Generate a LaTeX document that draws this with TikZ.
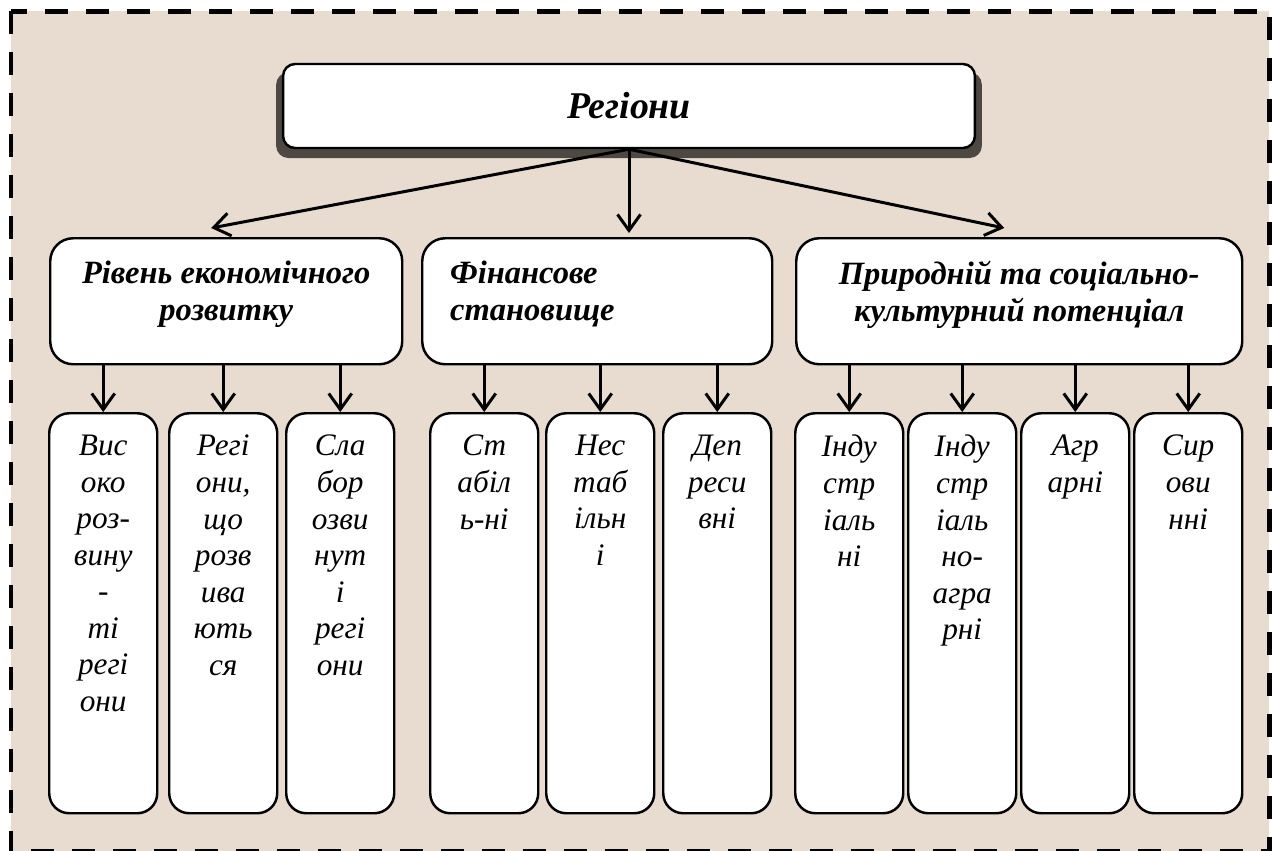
\documentclass[tikz,border=0pt]{standalone}
\usepackage{fontspec}
\setmainfont{Liberation Serif}
\usetikzlibrary{calc, arrows.meta, shadows}

\definecolor{bgbeige}{RGB}{232,219,208}
\definecolor{shadowgray}{RGB}{77,72,66}

\newlength\pxu
\setlength\pxu{0.02cm}

% cell contents: text hangs from the top of the box
\newcommand{\leafcell}[1]{\parbox[c][400\pxu][t]{108\pxu}{\vskip 22\pxu\relax\centering\fontsize{17.8pt}{20.8pt}\selectfont\itshape #1}}
\newcommand{\midcell}[3]{\parbox[c][126\pxu][t]{#1\pxu}{\vskip 23\pxu\relax #2\fontsize{18.5pt}{21pt}\selectfont\bfseries\itshape #3}}

\tikzset{
    arr/.style={line width=1.7pt, -{Straight Barb[length=3.2mm, width=4.6mm]}},
    topbox/.style={draw, line width=1.4pt, fill=white, rounded corners=2.4mm,
        minimum width=13.84cm, minimum height=1.68cm, inner sep=0pt,
        drop shadow={shadow xshift=0pt, shadow yshift=-1.8mm, shadow scale=1.02,
            fill=shadowgray, opacity=1}},
    midbox/.style={draw, line width=1.4pt, fill=white, rounded corners=4.6mm,
        inner sep=0pt, anchor=north west},
    leafbox/.style={draw, line width=1.4pt, fill=white, rounded corners=4mm,
        inner sep=0pt, anchor=north west}
}

\begin{document}
\begin{tikzpicture}[x=0.02cm, y=-0.02cm]
    \useasboundingbox (0,0) rectangle (1277,850);
    % background with dashed frame
    \fill[bgbeige] (11,11) rectangle (1269,852);
    \draw[line width=1mm, dash pattern=on 4.6mm off 3.6mm] (11,11) rectangle (1269,851.8);

    % top level
    \node[topbox] (top) at (629,106) {\fontsize{21.5pt}{24pt}\selectfont\bfseries\itshape Регіони};

    % second level
    \node[midbox] (econ) at (49,237) {\midcell{352}{\centering}{Рівень економічного\\розвитку}};
    \node[midbox] (fin) at (421,237) {\midcell{350}{\raggedright\leftskip=28\pxu\relax}{Фінансове\\становище}};
    \node[midbox] (pot) at (795,237) {\midcell{446}{\centering}{Природній та соціально-\\культурний потенціал}};

    \draw[arr] (top.south) -- ($(econ.north)+(-15,-9)$);
    \draw[arr] (top.south) -- ($(top.south |- fin.north)+(0,-4)$);
    \draw[arr] (top.south) -- ($(pot.north)+(-15,-9)$);

    % third level
    \foreach \nm/\xl/\up/\txt in {
        vys/48/econ/{Вис\\око\\роз-\\вину\\-\\ті\\регі\\они},
        rozv/168/econ/{Регі\\они,\\що\\розв\\ива\\ють\\ся},
        slab/285/econ/{Сла\\бор\\озви\\нут\\і\\регі\\они},
        stab/429/fin/{Ст\\абіл\\ь-ні},
        nest/545/fin/{Нес\\таб\\ільн\\і},
        depr/662/fin/{Деп\\реси\\вні},
        ind/794/pot/{Інду\\стр\\іаль\\ні},
        indagr/907/pot/{Інду\\стр\\іаль\\но-\\агра\\рні},
        agr/1020/pot/{Агр\\арні},
        syr/1133/pot/{Сир\\ови\\нні}} {
        \node[leafbox] (\nm) at (\xl,412) {\leafcell{\txt}};
        \draw[arr] (\up.south -| \nm.north) -- (\nm.north);
    }
\end{tikzpicture}
\end{document}
